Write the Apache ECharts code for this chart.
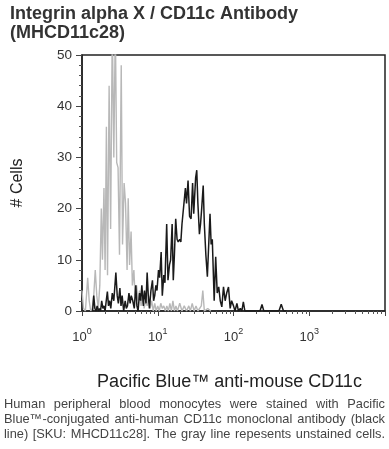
<!DOCTYPE html>
<html>
<head>
<meta charset="utf-8">
<script src="https://cdn.jsdelivr.net/npm/echarts@6/dist/echarts.min.js"></script>
<style>
  html, body { margin: 0; padding: 0; background: #ffffff; }
  #wrap { position: relative; width: 389px; height: 449px; overflow: hidden; }
  #chart { position: absolute; left: 0; top: 0; width: 389px; height: 449px; }
  #caption { position: absolute; left: 4px; width: 381px; top: 396px;
    font-family: "Liberation Sans", Arial, sans-serif; font-size: 12.8px; line-height: 15px; color: #444; }
  #caption div { text-align: justify; text-align-last: justify; white-space: nowrap; }
</style>
</head>
<body>
<div id="wrap">
  <div id="chart"></div>
  <div id="caption">
    <div>Human peripheral blood monocytes were stained with Pacific</div>
    <div>Blue™-conjugated anti-human CD11c monoclonal antibody (black</div>
    <div>line) [SKU: MHCD11c28]. The gray line repesents unstained cells.</div>
  </div>
</div>
<script>
// ---- data (x = log10 of fluorescence intensity, y = # cells) ----
const titleLines = ['Integrin alpha X / CD11c Antibody', '(MHCD11c28)'];
const xAxisTitle = 'Pacific Blue™ anti-mouse CD11c';
const yAxisTitle = '# Cells';
const xDecadeLabels = [0, 1, 2, 3];
const xMajorTicks = [0, 1, 2, 3, 4];
const minorMultipliers = [2, 3, 4, 5, 6, 7, 8, 9];
const yTicks = [0, 10, 20, 30, 40, 50];

const grayExp = [0.000,0.020,0.045,0.075,0.095,0.115,0.135,0.155,0.175,0.195,0.215,0.235,0.255,0.270,0.290,0.305,0.322,0.337,0.358,0.378,0.400,0.420,0.440,0.458,0.476,0.495,0.518,0.535,0.556,0.575,0.595,0.610,0.628,0.648,0.665,0.685,0.700,0.720,0.740,0.760,0.780,0.800,0.820,0.840,0.860,0.880,0.900,0.920,0.940,0.960,0.980,1.000,1.020,1.040,1.060,1.080,1.100,1.120,1.140,1.160,1.180,1.200,1.220,1.240,1.260,1.290,1.320,1.350,1.380,1.410,1.430,1.455,1.480,1.505,1.530,1.575,1.595,1.615,1.660,1.700];
const grayCount = [4,0.5,0,6.5,2,0,0.5,3,8,3,0.5,5,20,10,24,8,36,7,44,16,56,30,56,29,28,11,48,13,25,21,8,22,9,15.5,5,8,3,5,2,4,1,3,0.5,2,1,3,0.5,2,0,1.5,0,1,0,1.5,0.5,1,0,1,0,1.5,0,2,0,1,0,1.5,0,1,0,1,0,1.5,0,1,0,1,4,0,0.5,0];

const blackExp = [0.140,0.155,0.170,0.185,0.200,0.215,0.230,0.245,0.260,0.275,0.290,0.305,0.320,0.335,0.350,0.365,0.380,0.400,0.420,0.447,0.465,0.480,0.500,0.515,0.530,0.550,0.570,0.585,0.600,0.620,0.635,0.650,0.670,0.690,0.710,0.725,0.740,0.760,0.775,0.790,0.810,0.825,0.845,0.860,0.875,0.890,0.910,0.930,0.945,0.960,0.975,0.990,1.010,1.025,1.045,1.060,1.080,1.095,1.118,1.135,1.155,1.170,1.190,1.205,1.220,1.237,1.255,1.270,1.290,1.305,1.320,1.340,1.365,1.380,1.400,1.420,1.440,1.460,1.475,1.500,1.515,1.530,1.550,1.565,1.580,1.600,1.615,1.635,1.655,1.670,1.690,1.705,1.720,1.745,1.765,1.785,1.805,1.825,1.846,1.868,1.890,1.910,1.934,1.956,1.975,2.000,2.020,2.045,2.065,2.090,2.110,2.130,2.150,2.180,2.350,2.376,2.400,2.600,2.630,2.660,2.700];
const blackCount = [0,3,0.5,0,1,0,0.5,0,2,0.5,1,0,2,3.8,1,2,0.5,3.5,2,7.5,3,1.5,4.5,1,3,0,2,0.5,1,3.5,1.5,3,2,0.5,5,1,0,3.5,2,5,1,4,1.5,7.5,3,0.5,4,6,2,3,5,4,8,6.5,11.5,3,7,5.5,17,6,9,10,17,6,11,18,14,13.5,14,13.5,17,17,24,21,25.5,18.5,18,25,19,26,27.5,21,15,17,20,24.5,17,11,6.7,12,19,13,14,2,10.6,3.5,4.7,2,0.8,4.7,2,3.5,4.7,0.5,2,1,0,1.5,0,0.5,0,1.8,0,0,0,1.3,0,0,1.3,0,0];

// ---- build ----
const FONT = '"Liberation Sans", Arial, Helvetica, sans-serif';
const grayData = grayExp.map((e, i) => [e, grayCount[i]]);
const blackData = blackExp.map((e, i) => [e, blackCount[i]]);
const xMinorTicks = [];
for (let d = 0; d < 4; d++) minorMultipliers.forEach(m => xMinorTicks.push(d + Math.log10(m)));

const chart = echarts.init(document.getElementById('chart'), null, { renderer: 'canvas' });
chart.setOption({
  animation: false,
  backgroundColor: '#ffffff',
  title: {
    text: titleLines.join('\n'),
    left: 5, top: 0,
    textStyle: { fontFamily: FONT, fontSize: 18, fontWeight: 'bold', color: '#333', lineHeight: 19 }
  },
  grid: { left: 82, top: 55, width: 303, height: 256, show: true, borderColor: '#222', borderWidth: 1.5 },
  xAxis: [{
    type: 'value', min: 0, max: 4, interval: 1,
    axisLine: { show: true, lineStyle: { color: '#222', width: 1.5 } },
    axisTick: { show: true, customValues: xMajorTicks, length: 5, lineStyle: { color: '#444', width: 1 } },
    axisLabel: {
      customValues: xDecadeLabels, margin: 16,
      formatter: v => '{b|10}{s|' + v + '}',
      rich: {
        b: { fontFamily: FONT, fontSize: 13, color: '#333', verticalAlign: 'bottom', lineHeight: 17 },
        s: { fontFamily: FONT, fontSize: 9, color: '#333', verticalAlign: 'top', lineHeight: 10 }
      }
    },
    splitLine: { show: false },
    name: xAxisTitle, nameLocation: 'middle', nameGap: 62,
    nameTextStyle: { fontFamily: FONT, fontSize: 18, color: '#222', padding: [0, 8, 0, 0] }
  }, {
    type: 'value', min: 0, max: 4, position: 'bottom',
    axisLine: { show: false },
    axisTick: { show: true, customValues: xMinorTicks, length: 3, lineStyle: { color: '#555', width: 1 } },
    axisLabel: { show: false },
    splitLine: { show: false }
  }],
  yAxis: {
    type: 'value', min: 0, max: 50, interval: 10,
    axisLine: { show: true, lineStyle: { color: '#222', width: 1.5 } },
    axisTick: { show: true, customValues: yTicks, length: 6, lineStyle: { color: '#444', width: 1 } },
    minorTick: { show: true, splitNumber: 5, length: 3, lineStyle: { color: '#555', width: 1 } },
    axisLabel: { margin: 10, fontFamily: FONT, fontSize: 13.5, color: '#333' },
    splitLine: { show: false },
    name: yAxisTitle, nameLocation: 'middle', nameGap: 56, nameRotate: 90,
    nameTextStyle: { fontFamily: FONT, fontSize: 16, color: '#222' }
  },
  series: [{
    type: 'line', xAxisIndex: 0, data: grayData, showSymbol: false, symbol: 'none', clip: true,
    lineStyle: { color: '#b8b8b8', width: 1.4 }
  }, {
    type: 'line', xAxisIndex: 0, data: blackData, showSymbol: false, symbol: 'none', clip: true,
    lineStyle: { color: '#1a1a1a', width: 1.5 }
  }]
});
</script>
</body>
</html>
